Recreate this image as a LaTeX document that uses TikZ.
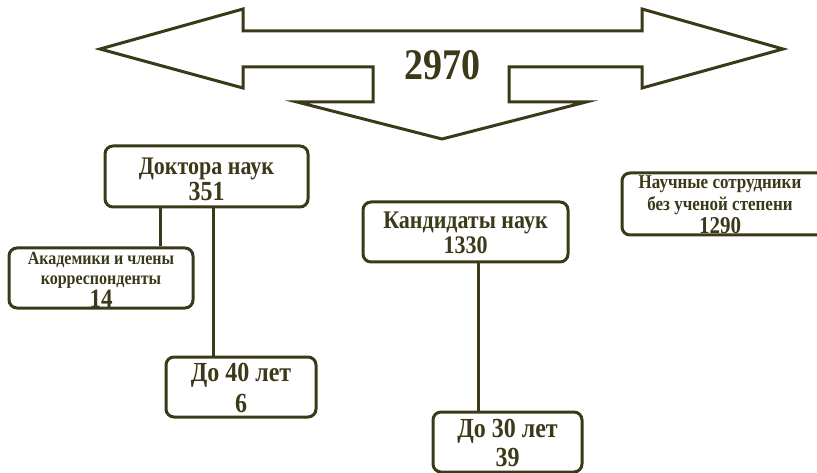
\documentclass[tikz,border=0pt]{standalone}
\usepackage{fontspec}
\setmainfont{Liberation Serif}
\definecolor{olivedark}{RGB}{59,57,25}
\newcommand{\tallx}[1]{\scalebox{1}[1.15]{#1}}
\tikzset{
  arrowshape/.style={draw=olivedark, line width=3pt, line join=miter, fill=white},
  boxframe/.style={draw=olivedark, line width=3pt, rounded corners=8pt, rectangle, inner sep=0pt, fill=white},
  link/.style={draw=olivedark, line width=3pt},
  lbl/.style={text=olivedark, align=center, inner sep=0pt},
}
\begin{document}
\begin{tikzpicture}[x=1pt,y=-1pt]
\useasboundingbox (0,0) rectangle (817,473);
\clip (0,0) rectangle (817,473);
% big three-way arrow
\draw[arrowshape] (100,49) -- (243,9) -- (243,31) -- (642,31) -- (642,9) -- (783,49)
  -- (642,88) -- (642,67) -- (509,67) -- (509,102) -- (586,102) -- (442,139)
  -- (297,102) -- (373,102) -- (373,67) -- (243,67) -- (243,88) -- cycle;
\node[lbl, font=\bfseries\fontsize{38}{40}\selectfont] (total) at (442,65) {\tallx{2970}};
% boxes
\node[boxframe, minimum width=203pt, minimum height=61pt] (doc) at (206.5,176.5) {};
\node[boxframe, minimum width=184pt, minimum height=60pt] (akad) at (101,278) {};
\node[boxframe, minimum width=150pt, minimum height=60pt] (d40) at (241,387) {};
\node[boxframe, minimum width=205pt, minimum height=60pt] (kand) at (465.5,232) {};
\node[boxframe, minimum width=149pt, minimum height=60pt] (d30) at (507.5,442) {};
\node[boxframe, minimum width=210pt, minimum height=62pt] (nauch) at (727,204) {};
% connectors
\draw[link] ([xshift=-46.5pt]doc.south) -- ([xshift=-46.5pt]doc.south |- akad.north);
\draw[link] ([xshift=6.5pt]doc.south) -- ([xshift=6.5pt]doc.south |- d40.north);
\draw[link] ([xshift=12.5pt]kand.south) -- ([xshift=12.5pt]kand.south |- d30.north);
% texts
\node[lbl, font=\bfseries\fontsize{22}{26}\selectfont] (doct) at (206.5,179) {\tallx{Доктора наук}\\{\fontsize{24}{26}\selectfont\tallx{351}}};
\node[lbl, font=\bfseries\fontsize{16}{20}\selectfont] (akadt) at (101,280) {\tallx{Академики и члены}\\\tallx{корреспонденты}\\{\fontsize{23}{23}\selectfont\tallx{14}}};
\node[lbl, font=\bfseries\fontsize{24}{31}\selectfont] (d40t) at (241,387.5) {\tallx{До 40 лет}\\\tallx{6}};
\node[lbl, font=\bfseries\fontsize{22}{25}\selectfont] (kandt) at (465.5,232.5) {\tallx{Кандидаты наук}\\\tallx{1330}};
\node[lbl, font=\bfseries\fontsize{24}{29}\selectfont] (d30t) at (507.5,442.5) {\tallx{До 30 лет}\\\tallx{39}};
\node[lbl, font=\bfseries\fontsize{17}{22.5}\selectfont] (naucht) at (720,204.5) {\tallx{Научные сотрудники}\\\tallx{без ученой степени}\\{\fontsize{21}{21}\selectfont\tallx{1290}}};
\end{tikzpicture}
\end{document}
